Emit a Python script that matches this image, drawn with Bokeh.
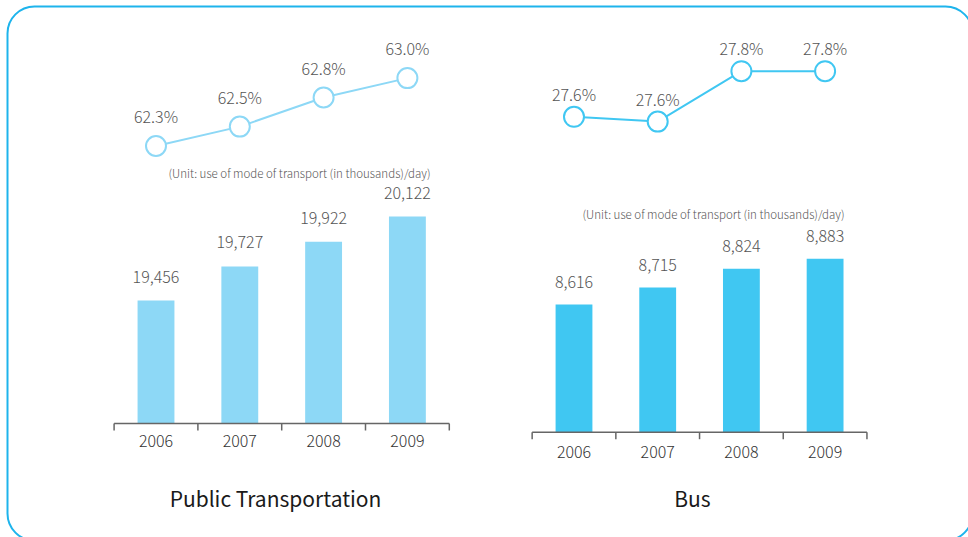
from bokeh.plotting import figure
from bokeh.models import Range1d, ColumnDataSource, BoxAnnotation
from bokeh.core.properties import value
from bokeh.embed import file_html
from bokeh.resources import INLINE

# ---------------- data ----------------
years = ["2006", "2007", "2008", "2009"]
pt_share = [62.3, 62.5, 62.8, 63.0]          # Public transportation share (%)
pt_riders = [19456, 19727, 19922, 20122]     # thousands / day
bus_share = [27.61, 27.59, 27.80, 27.80]     # Bus share (%), shown with 1 decimal
bus_riders = [8616, 8715, 8824, 8883]        # thousands / day
titles = ["Public Transportation", "Bus"]
unit_text = "(Unit: use of mode of transport (in thousands)/day)"

# ---------------- style ----------------
FONT = "Noto Sans CJK KR Light, Noto Sans CJK KR"
TITLE_FONT = "Noto Sans CJK KR"
LIGHT = "#8dd8f6"
DARK = "#40c7f2"
BORDER = "#1eb4ec"
TXT = "#555555"

W, H = 968, 537
SX0, SX1, SY0, SY1 = 0, W, 0, H   # window coordinates of the canvas

p = figure(width=W, height=H, output_backend="svg", toolbar_location=None,
           x_range=Range1d(SX0, SX1), y_range=Range1d(SY1, SY0),
           x_axis_type=None, y_axis_type=None, min_border=0)
p.grid.visible = False
p.outline_line_color = None


def xr(c0, step):
    """index range so that index i sits at window x = c0 + step*i"""
    return Range1d((SX0 - c0) / step, (SX1 - c0) / step)


def yr(v0, sy, px):
    """value range so that value v0 sits at window y = sy, px pixels per unit"""
    return Range1d(v0 - (SY1 - sy) / px, v0 + (sy - SY0) / px)


# panel geometry
panels = [
    dict(name="L", share=pt_share, riders=pt_riders, color=LIGHT, c0=155.5, step=83.8,
         axis_y=423.0, base=18480, bpx=0.126, bar_lab=-24,
         lv0=62.3, lsy=145.5, lpx=97.0, line_lab=-30,
         year_dy=17, unit_x=430, unit_y=172, title_x=275, fmt="{:.1f}%"),
    dict(name="R", share=bus_share, riders=bus_riders, color=DARK, c0=573.5, step=83.7,
         axis_y=431.7, base=7874, bpx=0.172, bar_lab=-23,
         lv0=27.8, lsy=70.7, lpx=240.0, line_lab=-23,
         year_dy=20, unit_x=844, unit_y=213, title_x=692, fmt="{:.1f}%"),
]

for k, pn in enumerate(panels):
    n = pn["name"]
    p.extra_x_ranges[n + "x"] = xr(pn["c0"], pn["step"])
    p.extra_y_ranges[n + "bar"] = yr(pn["base"], pn["axis_y"], pn["bpx"])
    p.extra_y_ranges[n + "line"] = yr(pn["lv0"], pn["lsy"], pn["lpx"])

    idx = list(range(len(years)))
    src = ColumnDataSource(dict(
        i=idx, year=years, riders=pn["riders"], share=pn["share"],
        rlab=["{:,}".format(v) for v in pn["riders"]],
        slab=[pn["fmt"].format(v) for v in pn["share"]],
        ylab=[pn["axis_y"] + pn["year_dy"]] * len(years),
    ))

    # bars
    p.vbar(x="i", top="riders", bottom=pn["base"], width=0.44, source=src,
           fill_color=pn["color"], line_color=None,
           x_range_name=n + "x", y_range_name=n + "bar")
    p.text(x="i", y="riders", text="rlab", source=src, x_range_name=n + "x",
           y_range_name=n + "bar", text_align="center", text_baseline="middle",
           y_offset=pn["bar_lab"], text_font=value(FONT),
           text_font_size=value("16px"), text_color=TXT)

    # axis line + ticks
    ticks = [i - 0.5 for i in range(len(years) + 1)]
    p.segment(x0=[-0.5], x1=[len(years) - 0.5], y0=[pn["axis_y"]], y1=[pn["axis_y"]],
              line_color="#666666", line_width=1.5, x_range_name=n + "x")
    p.segment(x0=ticks, x1=ticks, y0=[pn["axis_y"]] * len(ticks),
              y1=[pn["axis_y"] + 7] * len(ticks),
              line_color="#666666", line_width=1.5, x_range_name=n + "x")
    p.text(x="i", y="ylab", text="year", source=src, x_range_name=n + "x",
           text_align="center", text_baseline="middle", text_font=value(FONT),
           text_font_size=value("16px"), text_color="#333333")

    # share line
    p.line(x="i", y="share", source=src, line_color=pn["color"], line_width=2,
           x_range_name=n + "x", y_range_name=n + "line")
    p.scatter(x="i", y="share", source=src, size=20, fill_color="white",
              line_color=pn["color"], line_width=2,
              x_range_name=n + "x", y_range_name=n + "line")
    p.text(x="i", y="share", text="slab", source=src, x_range_name=n + "x",
           y_range_name=n + "line", text_align="center", text_baseline="middle",
           y_offset=pn["line_lab"], text_font=value(FONT),
           text_font_size=value("16px"), text_color=TXT)

    # unit note and panel title
    p.text(x=[pn["unit_x"]], y=[pn["unit_y"]], text=[unit_text], text_align="right",
           text_baseline="middle", text_font=value(FONT),
           text_font_size=value("11.5px"), text_color="#555555")
    p.text(x=[pn["title_x"]], y=[497], text=[titles[k]], text_align="center",
           text_baseline="middle", text_font=value(TITLE_FONT),
           text_font_size=value("21px"), text_color="#1a1a1a")

# rounded frame
p.add_layout(BoxAnnotation(left=7, right=972, top=6, bottom=540, fill_alpha=0,
                           line_color=BORDER, line_alpha=1.0, line_width=2,
                           border_radius=27))

open("out.html", "w").write(file_html(p, INLINE))
